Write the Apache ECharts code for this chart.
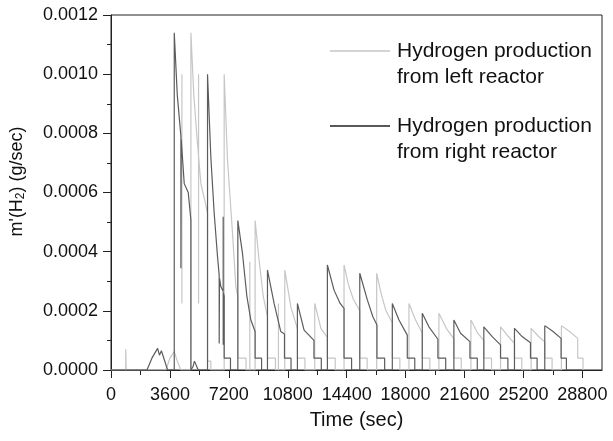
<!DOCTYPE html>
<html>
<head>
<meta charset="utf-8">
<script src="https://cdn.jsdelivr.net/npm/echarts@6/dist/echarts.min.js"></script>
<style>html,body{margin:0;padding:0;background:#fff}#c{width:613px;height:441px}</style>
</head>
<body>
<div id="c"></div>
<script>
// ---- data ----
// x tick labels
const xMajorTicks = [0, 3600, 7200, 10800, 14400, 18000, 21600, 25200, 28800];
const xMinorTicks = [1800, 5400, 9000, 12600, 16200, 19800, 23400, 27000];
const yTicks = [0, 0.0002, 0.0004, 0.0006, 0.0008, 0.0010, 0.0012];

// Hydrogen production from left reactor (light gray)
const leftTime = [0, 900, 900, 930, 930, 3356, 3600, 3865, 4050, 4271, 4882,
  4882, 5060, 5248, 5492, 5700, 5898, 5898, 6100, 6100, 6915,
  6915, 7119, 7424, 7627, 7750, 7750, 8250, 8250, 8805,
  8805, 9050, 9300, 9560, 9560, 10050, 10050, 10618,
  10618, 11000, 11390, 11390, 11850, 11850, 12448,
  12448, 12830, 13221, 13221, 13700, 13700, 14238,
  14238, 14500, 14800, 15200, 15200, 15650, 15650, 16232,
  16232, 16500, 16800, 17188, 17188, 17650, 17650, 18205,
  18205, 18600, 19018, 19018, 19480, 19480, 20035,
  20035, 20500, 20950, 20950, 21400, 21400, 21990,
  21990, 22400, 22780, 22780, 23250, 23250, 23800,
  23800, 24250, 24652, 24652, 25100, 25100, 25670,
  25670, 26100, 26503, 26503, 26950, 26950, 27520,
  27520, 28020, 28516, 28516, 28840, 28840];
const leftRate = [0, 0, 0.00007, 0.00007, 0, 0, 0.00004, 0.000062, 0.00003, 0, 0,
  0.00114, 0.00093, 0.00079, 0.00063, 0.00058, 0.00053, 0.00003, 0.00003, 0, 0,
  0.001, 0.00071, 0.000462, 0.000282, 0.00025, 0.00004, 0.00004, 0, 0,
  0.000505, 0.00037, 0.00025, 0.00018, 0.00004, 0.00004, 0, 0,
  0.000338, 0.00021, 0.00014, 0.00004, 0.00004, 0, 0,
  0.000225, 0.00014, 0.00011, 0.00004, 0.00004, 0, 0,
  0.000355, 0.00029, 0.00024, 0.0002, 0.00004, 0.00004, 0, 0,
  0.000327, 0.00026, 0.0002, 0.00016, 0.00004, 0.00004, 0, 0,
  0.000225, 0.00017, 0.000125, 0.00004, 0.00004, 0, 0,
  0.000192, 0.00014, 0.000105, 0.00004, 0.00004, 0, 0,
  0.000169, 0.000125, 0.0001, 0.00004, 0.00004, 0, 0,
  0.000146, 0.000115, 0.00009, 0.00004, 0.00004, 0, 0,
  0.000141, 0.000115, 0.000095, 0.00004, 0.00004, 0, 0,
  0.00015, 0.00013, 0.000107, 0.00004, 0.00004, 0];
// short isolated spikes of the left reactor trace
const leftSpikeTime = [4332, 5350, 8482, 10231];
const leftSpikeLow  = [0.000225, 0.000225, 0, 0];
const leftSpikeHigh = [0.001, 0.001, 0.000366, 0.000225];

// Hydrogen production from right reactor (dark gray)
const rightTime = [0, 2197, 2500, 2849, 2960, 3080, 3458, 3865,
  3865, 4050, 4271, 4271, 4290, 4475, 4719, 4882, 4882, 5000, 5100, 5200, 5330, 5898,
  5898, 6100, 6305, 6509, 6610, 6610, 6630, 6712, 6855, 6855, 6855, 6870, 6915, 6915, 7300, 7300, 7750,
  7750, 8034, 8300, 8543, 8805, 8805, 9200, 9200, 9560,
  9560, 9966, 10373, 10600, 10600, 11000, 11000, 11390,
  11390, 11797, 12400, 12400, 12850, 12850, 13221,
  13221, 13628, 14000, 14238, 14238, 14700, 14700, 15200,
  15200, 15662, 16000, 16250, 16250, 16720, 16720, 17188,
  17188, 17595, 18103, 18103, 18560, 18560, 19018,
  19018, 19425, 19974, 19974, 20450, 20450, 20950,
  20950, 21357, 21930, 21930, 22380, 22380, 22780,
  22780, 23290, 23800, 23800, 24250, 24250, 24652,
  24652, 25120, 25630, 25630, 26035, 26035, 26503,
  26503, 27010, 27500, 27500, 27826, 27826, 28800];
const rightRate = [0, 0, 0.00004, 0.000073, 0.00005, 0.000065, 0, 0,
  0.00114, 0.00093, 0.00079, 0.000344, 0.00078, 0.00063, 0.0006, 0.000507, 0, 0.00001, 0.00003, 0.000025, 0, 0,
  0.001, 0.00072, 0.00053, 0.000383, 0.00032, 0.00009, 0.00031, 0.000282, 0.000265, 0.000518, 0.000085, 0.00026, 0.00025, 0.00004, 0.00004, 0, 0,
  0.000505, 0.000394, 0.00025, 0.000169, 0.00013, 0.00004, 0.00004, 0, 0,
  0.000338, 0.000225, 0.00013, 0.000122, 0.00004, 0.00004, 0, 0,
  0.000225, 0.000135, 0.0001, 0.00004, 0.00004, 0, 0,
  0.000355, 0.00027, 0.000225, 0.000208, 0.00004, 0.00004, 0, 0,
  0.000327, 0.000237, 0.00018, 0.000152, 0.00004, 0.00004, 0, 0,
  0.000225, 0.000169, 0.000118, 0.00004, 0.00004, 0, 0,
  0.000192, 0.000146, 0.000104, 0.00004, 0.00004, 0, 0,
  0.000169, 0.000124, 0.000096, 0.00004, 0.00004, 0, 0,
  0.000146, 0.000113, 0.000085, 0.00004, 0.00004, 0, 0,
  0.000141, 0.000113, 0.000092, 0.00004, 0.00004, 0, 0,
  0.00015, 0.00013, 0.000107, 0.00004, 0.00004, 0, 0];

// ---- build series data ----
const leftData = leftTime.map((t, i) => [t, leftRate[i]]);
leftSpikeTime.forEach((t, i) => {
  leftData.push([t, '-']);
  leftData.push([t, leftSpikeLow[i]]);
  leftData.push([t, leftSpikeHigh[i]]);
});
const rightData = rightTime.map((t, i) => [t, rightRate[i]]);

const FONT = "'Liberation Sans', Arial, Helvetica, sans-serif";
const AX = '#222';

const chart = echarts.init(document.getElementById('c'), null, {renderer: 'canvas'});
chart.setOption({
  animation: false,
  backgroundColor: '#fff',
  grid: {left: 110, right: 11, top: 15, bottom: 71, show: true, borderColor: AX, borderWidth: 1, backgroundColor: 'transparent'},
  xAxis: [{
    type: 'value', min: 0, max: 30000, interval: 3600,
    name: 'Time (sec)', nameLocation: 'middle', nameGap: 40,
    nameTextStyle: {fontFamily: FONT, fontSize: 20, color: '#111'},
    axisLine: {show: true, lineStyle: {color: AX, width: 1}},
    axisTick: {show: true, length: 8, lineStyle: {color: AX}, customValues: xMajorTicks},
    axisLabel: {show: true, margin: 16, fontFamily: FONT, fontSize: 18, color: '#111', customValues: xMajorTicks,
      formatter: v => String(v)},
    splitLine: {show: false}
  }, {
    type: 'value', min: 0, max: 30000, position: 'bottom',
    axisLine: {show: false},
    axisTick: {show: true, length: 5, lineStyle: {color: AX}, customValues: xMinorTicks},
    axisLabel: {show: false},
    splitLine: {show: false}
  }],
  yAxis: {
    type: 'value', min: 0, max: 0.0012, interval: 0.0002,
    name: "m'(H{s|2}) (g/sec)", nameLocation: 'middle', nameGap: 84, nameRotate: 90,
    nameTextStyle: {fontFamily: FONT, fontSize: 18, color: '#111', padding: [0, 0, 0, 22],
      rich: {s: {fontFamily: FONT, fontSize: 12, color: '#111', verticalAlign: 'bottom', padding: [8, 0, 0, 0]}}},
    axisLine: {show: true, lineStyle: {color: AX, width: 1}},
    axisTick: {show: true, length: 8, lineStyle: {color: AX}},
    minorTick: {show: true, splitNumber: 2, length: 4, lineStyle: {color: AX}},
    axisLabel: {margin: 13, fontFamily: FONT, fontSize: 18, color: '#111', formatter: v => v.toFixed(4)},
    splitLine: {show: false}, minorSplitLine: {show: false}
  },
  series: [{
    name: 'Hydrogen production from left reactor', type: 'line', data: leftData,
    showSymbol: false, symbol: 'none', connectNulls: false,
    lineStyle: {color: '#c6c6c6', width: 1.2}, z: 2
  }, {
    name: 'Hydrogen production from right reactor', type: 'line', data: rightData,
    showSymbol: false, symbol: 'none', connectNulls: false,
    lineStyle: {color: '#5c5c5c', width: 1.2}, z: 3
  }],
  graphic: [
    {type: 'line', shape: {x1: 330, y1: 51, x2: 390, y2: 51}, style: {stroke: '#c6c6c6', lineWidth: 1.5}},
    {type: 'text', left: 397, top: 38, style: {text: 'Hydrogen production\nfrom left reactor', font: '21px ' + FONT, fill: '#111', lineHeight: 26}},
    {type: 'line', shape: {x1: 330, y1: 126, x2: 390, y2: 126}, style: {stroke: '#222', lineWidth: 1.5}},
    {type: 'text', left: 397, top: 113, style: {text: 'Hydrogen production\nfrom right reactor', font: '21px ' + FONT, fill: '#111', lineHeight: 26}}
  ]
});
</script>
</body>
</html>
